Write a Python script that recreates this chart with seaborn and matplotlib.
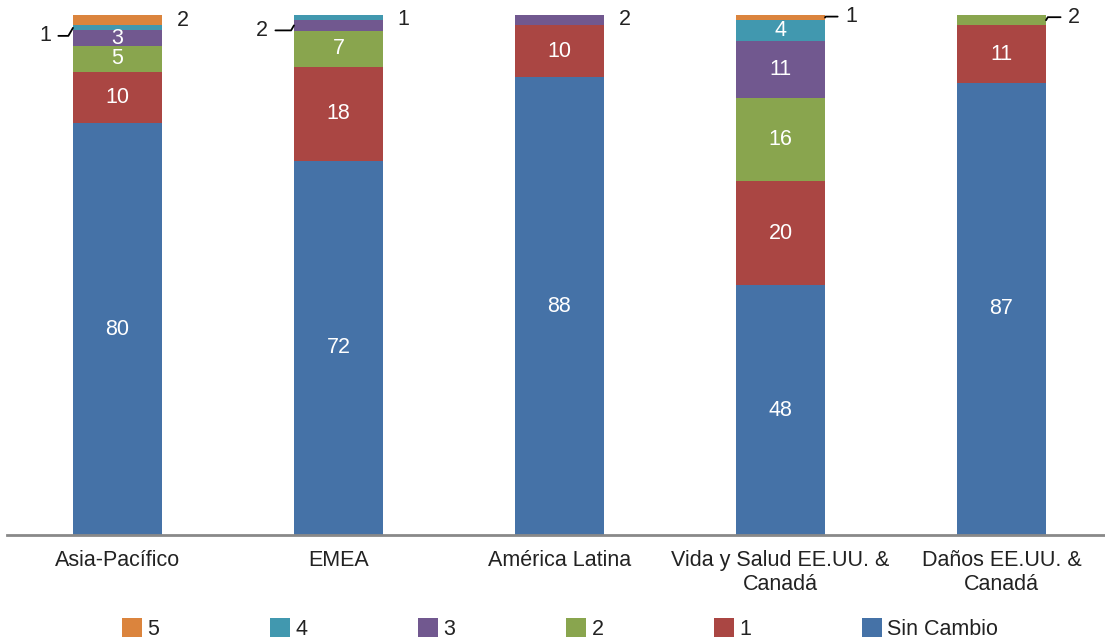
import matplotlib
matplotlib.use("Agg")
import matplotlib.pyplot as plt
from matplotlib.patches import Patch
import numpy as np
import seaborn as sns

# Regions and response counts per score level (stacked bottom -> top)
regions = ["Asia-Pacífico", "EMEA", "América Latina",
           "Vida y Salud EE.UU. &\nCanadá", "Daños EE.UU. &\nCanadá"]
series_names = ["Sin Cambio", "1", "2", "3", "4", "5"]
sin_cambio = [80, 72, 88, 48, 87]
nivel_1 = [10, 18, 10, 20, 11]
nivel_2 = [5, 7, 0, 16, 2]
nivel_3 = [3, 2, 2, 11, 0]
nivel_4 = [1, 1, 0, 4, 0]
nivel_5 = [2, 0, 0, 1, 0]

series_values = [sin_cambio, nivel_1, nivel_2, nivel_3, nivel_4, nivel_5]
colors = ["#4572A7", "#AA4643", "#89A54E", "#71588F", "#4198AF", "#DB843D"]

# Placement of labels for thin segments: (region index, series index) ->
# (side, dx px, dy px, leader line)
outside_labels = {
    (0, 4): ("left", -28, -8, True),
    (0, 5): ("right", 21, 0, False),
    (1, 3): ("left", -32, -5, True),
    (1, 4): ("right", 20, -2, False),
    (2, 3): ("right", 21, 1, False),
    (3, 5): ("right", 26, 1, True),
    (4, 2): ("right", 28, 3, True),
}

sns.set_theme(style="white")
plt.rcParams["font.family"] = ["Liberation Sans", "DejaVu Sans"]

W, H = 1105, 642
fig = plt.figure(figsize=(W / 100, H / 100), dpi=100)
ax = fig.add_axes([7 / W, 107 / H, 1105 / W, 520 / H])

vals = np.array(series_values, dtype=float)
totals = vals.sum(axis=0)
shares = vals / totals * 100.0
bar_w = 0.403
fs = 15.5
text_dark = "#222222"

bottom = np.zeros(len(regions))
for si, (name, col) in enumerate(zip(series_names, colors)):
    sns.barplot(x=regions, y=shares[si], color=col, width=bar_w,
                errorbar=None, bottom=bottom.copy(), linewidth=0,
                saturation=1, ax=ax)
    for ri in range(len(regions)):
        v = series_values[si][ri]
        if v == 0:
            continue
        mid = bottom[ri] + shares[si][ri] / 2
        key = (ri, si)
        if key in outside_labels:
            side, dx, dy, leader = outside_labels[key]
            xe = ri + (bar_w / 2 if side == "right" else -bar_w / 2)
            arrow = None
            if leader:
                arrow = dict(arrowstyle="-", color="black", lw=1.3,
                             shrinkA=3, shrinkB=0,
                             connectionstyle="angle,angleA=0,angleB=60")
            ax.annotate(str(v), xy=(xe, mid), xytext=(dx, dy),
                        textcoords="offset pixels", ha="center", va="center",
                        fontsize=fs, color=text_dark, arrowprops=arrow,
                        annotation_clip=False)
        else:
            ax.text(ri, mid, str(v), ha="center", va="center",
                    fontsize=fs, color="white")
    bottom = bottom + shares[si]

ax.set_xlim(-0.5, 4.5)
ax.set_ylim(0, 100)
ax.set_xlabel("")
ax.set_ylabel("")
ax.set_yticks([])
for s in ["top", "left", "right"]:
    ax.spines[s].set_visible(False)
ax.spines["bottom"].set_color("#898989")
ax.spines["bottom"].set_linewidth(2)
ax.tick_params(axis="x", length=0, pad=11, labelsize=fs, colors=text_dark)
for lbl in ax.get_xticklabels():
    lbl.set_linespacing(1.2)

# Legend entries spaced evenly along the bottom edge
legend_order = ["5", "4", "3", "2", "1", "Sin Cambio"]
for i, name in enumerate(legend_order):
    col = colors[series_names.index(name)]
    x_px = 122 + i * 148
    fig.legend(handles=[Patch(facecolor=col, edgecolor="none")], labels=[name],
               loc="center left", bbox_to_anchor=(x_px / W, (H - 629) / H),
               frameon=False, handlelength=0.93, handleheight=0.93,
               handletextpad=0.25, borderpad=0, borderaxespad=0,
               fontsize=fs, labelcolor=text_dark)

fig.savefig("out.png", dpi=100)
